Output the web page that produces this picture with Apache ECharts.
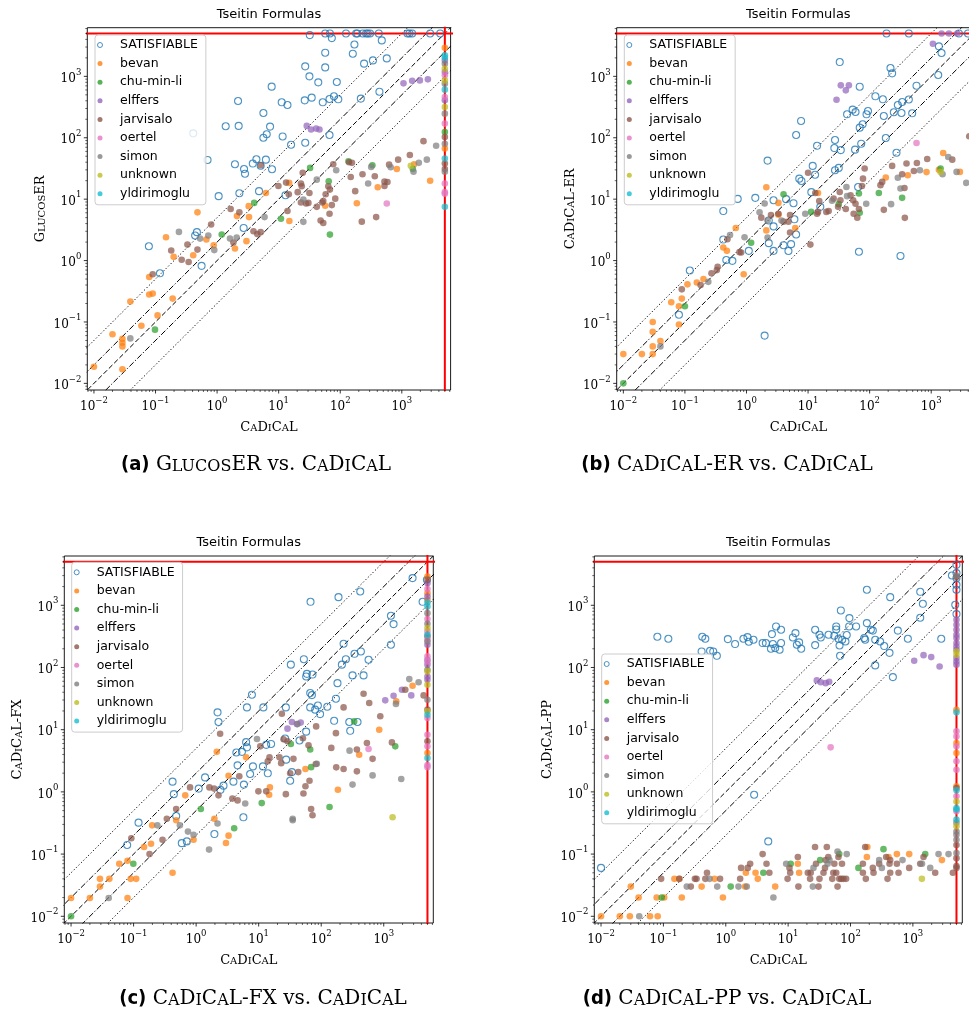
<!DOCTYPE html>
<html><head><meta charset="utf-8">
<script src="https://cdn.jsdelivr.net/npm/echarts@6/dist/echarts.min.js"></script>
<style>html,body{margin:0;padding:0;background:#fff}#c{width:969px;height:1017px}</style>
</head><body><div id="c"></div>
<script>
// ---------------- data ----------------
const CATS = ['SATISFIABLE','bevan','chu-min-li','elffers','jarvisalo','oertel','simon','unknown','yldirimoglu'];
const COLORS = ['#1f77b4','#ff7f0e','#2ca02c','#9467bd','#8c564b','#e377c2','#7f7f7f','#bcbd22','#17becf'];
const TIMEOUT = 5000;
const AXIS_MIN = 0.0078, AXIS_MAX = 6200;
const RATIOS = [5, 2, 1, 0.5, 0.2];
const TICK_EXPONENTS = [-2, -1, 0, 1, 2, 3];
const TITLE = 'Tseitin Formulas';
const XNAME = 'CaDiCaL';
const YNAMES = ['GlucosER','CaDiCaL-ER','CaDiCaL-FX','CaDiCaL-PP'];
const TAGS = ['(a)','(b)','(c)','(d)'];

// Panel (a): GlucosER vs CaDiCaL
const A_SAT = [[57,5000],[68,5000],[124,5000],[181,5000],[190,5000],[232,5000],[263,5000],[280,5000],[305,5000],[423,5000],[1236,5000],[1333,5000],[1473,5000],[2885,5000],[4200,5000],
 [32,4700],[73,4200],[170,3300],[473,3850],[57,2430],[160,2340],[570,1960],[340,1820],[244,1610],[27,1455],[57,1400],[31.6,1000],[44,798],[88,810],[7.7,680],[433,563],[79,473],[34.4,450],[216,434],[67,428],[93,423],[26.5,407],[2.19,397],[52,378],[11.2,378],[13.9,342],[5.65,253],[1.38,154],[2.24,156],[7.25,152],[0.41,118],[6.4,114],[5.65,100],[11.6,105],[67,111],[15.9,77],[27,83],[0.70,43.5],[4.35,44.7],[6.2,44],[3.8,38],[1.95,37],[5.1,35],[2.74,31],[7.8,30.7],[2.84,26],[4.8,13.5],[2.3,12.5],[1.06,11.2],[12.9,11.6],[0.47,2.9],[0.44,2.56],[2.7,3.4],[0.078,1.71],[0.56,0.82],[0.118,0.62]];
const A_bevan = [[0.148,2.4],[0.48,6.1],[0.197,1.15],[0.41,1.22],[0.67,2.2],[0.88,1.78],[1.95,1.57],[3.0,2.07],[2.1,5.3],[3.3,5.1],[3.26,7.7],[6.2,12.6],[14.8,18.4],[14.9,4.4],[57,7.8],[186,8.6],[407,15.6],[830,31],[1585,37],[2885,20],[0.079,0.54],[0.09,0.29],[0.079,0.28],[0.19,0.24],[0.108,0.128],[0.059,0.087],[0.039,0.216],[0.029,0.053],[0.029,0.046],[0.029,0.040],[0.029,0.017],[0.020,0.063],[0.01,0.0187],[5000,2925],[5000,67]];
const A_chu = [[0.098,0.075],[1.19,2.65],[4.0,8.7],[10.9,4.8],[32.4,32.3],[136,41.4],[333,35.6],[1510,31],[65,19.6],[68,2.65],[5000,124]];
const A_elffers = [[1065,770],[1473,850],[1963,860],[2650,893],[28.6,156],[33.6,136],[40.6,141],[46,136],[5000,1820],[5000,1175],[5000,407]];
const A_jarvisalo = [[2250,88],[1350,52.5],[872,44],[622,36.5],[523,19.3],[585,19],[523,16.4],[224,4.3],[383,5.1],[139,40],[155,39],[148,23],[230,25.5],[364,23.6],[175,13.5],[77,37],[64,16.2],[68,14.3],[58,12],[83,10.2],[73,8.0],[51,8.8],[53,9.3],[41.6,7.5],[67,5.8],[48,4.5],[53,4.1],[31.6,12.6],[23,18],[23.7,16.2],[20.4,13],[24.6,27],[23,8.8],[27.9,8.5],[30.4,8.7],[14.6,12],[13.2,18.6],[9.9,16.4],[13.9,6.4],[5.1,35.6],[2.3,6.1],[1.66,6.9],[5.1,2.9],[4.5,2.7],[3.9,3.0],[1.84,1.97],[0.80,3.86],[0.48,1.51],[0.33,1.82],[0.345,0.95],[0.266,1.03],[0.18,1.46],[0.09,0.60],[5000,103],[5000,38],[5000,31]];
const A_oertel = [[570,8.5],[5000,1040],[5000,461],[5000,170],[5000,18],[5000,13],[5000,12.3]];
const A_simon = [[3610,74],[2550,44],[1890,39],[660,33],[1550,28],[318,33.5],[284,18],[86,29.6],[41.6,20.8],[25.2,9.9],[25.2,4.27],[5.9,5.1],[2.08,2.37],[1.62,2.28],[0.90,1.48],[0.72,2.56],[0.53,2.28],[0.24,2.93],[0.039,0.054],[5000,1605],[5000,760],[5000,247],[5000,80],[5000,28]];
const A_unknown = [[1400,35],[5000,1333],[5000,860],[5000,317]];
const A_yldirimoglu = [[5000,2200],[5000,2010],[5000,607],[5000,46],[5000,7.5]];

// Panel (b): CaDiCaL-ER vs CaDiCaL
const B_SAT = [[188,5000],[433,5000],[2820,5000],[3950,5000],[1333,3080],[1472,2400],[32.7,1710],[218,1367],[232,1119],[1300,1051],[577,705],[69,679],[124,473],[164,423],[433,420],[338,382],[287,342],[53,287],[43,241],[59,263],[94,273],[89,241],[247,260],[170,226],[329,253],[491,250],[7.7,188],[77,166],[69,146],[6.4,111],[183,99],[14,74],[27.4,92],[26.7,68],[34,63],[58,64],[73,80],[273,57],[2.2,42.5],[31.5,32.3],[27.4,29.6],[11.9,34.8],[13,25],[7.2,21.6],[7.8,19.8],[65,15.8],[11.3,13],[15.8,7.5],[1.39,10.5],[0.72,10.1],[2.75,9.6],[4.4,10],[5.8,8.6],[0.42,6.4],[2.3,4.5],[6.0,4.7],[6.4,2.66],[2.75,3.6],[2.3,1.92],[4.0,1.78],[5.3,1.85],[2.75,1.44],[4.8,1.43],[1.09,1.44],[0.47,1.02],[0.59,0.99],[0.42,2.2],[0.12,0.69],[0.08,0.131],[67,1.39],[317,1.19],[1.97,0.060]];
const B_bevan = [[1567,56.6],[1333,30],[2925,27.8],[840,27.6],[417,24.5],[183,22.5],[14.5,12.6],[3.3,8.7],[3.3,5.6],[6.2,3.4],[2.1,15.6],[2.1,3.1],[0.9,0.60],[0.67,3.4],[0.42,1.63],[0.48,1.44],[0.20,0.50],[0.156,0.44],[0.11,0.41],[0.089,0.24],[0.06,0.21],[0.08,0.18],[0.08,0.091],[0.03,0.10],[0.03,0.069],[0.04,0.049],[0.03,0.04],[0.03,0.03],[0.02,0.03],[0.01,0.03]];
const B_chu = [[1419,31.5],[337,10.5],[141,12.6],[67,12.4],[69,6.0],[31.5,8.3],[11.2,6.2],[4.0,12],[1.19,1.95],[0.10,0.18],[0.01,0.01]];
const B_elffers = [[1472,5000],[1940,5000],[2650,5000],[1065,3400],[34,714],[46,714],[41,592],[29,417]];
const B_jarvisalo = [[4150,106],[2197,44],[861,45],[523,28.7],[397,38],[337,25.5],[585,38.9],[232,34.8],[368,15.2],[373,4.96],[170,6.7],[150,16.9],[160,19.1],[83,31.5],[78,21.6],[75,16.4],[49,11.6],[54,9.6],[59,8.4],[67,6.9],[63,5.0],[55,5.8],[41,6.9],[30.7,7.5],[26,10.2],[33.5,9.6],[32.7,13.1],[21.6,6.4],[19.8,6.2],[14.5,6.2],[14,5.8],[13.1,12.6],[15.2,9.3],[10,27],[10.9,1.82],[5.1,5.5],[4.8,4.3],[4.0,4.3],[3.3,5.8],[5.1,2.87],[2.5,5.5],[1.74,5.0],[0.82,1.35],[0.49,2.23],[0.77,1.37],[0.34,0.79],[0.33,0.70],[0.27,0.62],[0.18,0.40],[0.089,0.34]];
const B_oertel = [[577,82]];
const B_simon = [[1890,48.7],[1528,25.5],[2582,27.8],[3710,18.4],[655,29.6],[287,22.3],[317,14.9],[223,8.3],[88,8.4],[24.5,9.4],[43,11.2],[42,15.8],[9.0,5.8],[3.7,4.5],[2.2,4.5],[1.97,8.5],[1.63,6.1],[2.2,2.37],[0.93,2.4],[0.54,2.6],[0.24,0.45],[0.04,0.04]];
const B_unknown = [[1419,27.8]];
const B_yldirimoglu = [];

// Panel (c): CaDiCaL-FX vs CaDiCaL
const C_SAT = [[2890,2735],[4900,2570],[421,1668],[189,1352],[67.5,1138],[4180,1138],[1303,678],[1436,498],[228,241],[1303,232],[248,136],[52.8,136],[572,133],[32.7,111],[341,166],[431,181],[214,111],[57.5,71.8],[59,79],[72.6,77],[317,74.6],[476,74.6],[182,56],[66.7,38.8],[71,36],[7.8,36.5],[172,31.5],[66.7,22.8],[88.5,24.5],[80,21],[96,17.8],[125,23.4],[27.2,22.8],[6.5,22.8],[11.9,22.8],[2.2,19],[2.28,13.3],[161,13.9],[281,13.3],[291,9.6],[381,13.3],[57.5,9.3],[45,6.7],[26.5,7.2],[15.8,5.9],[13.2,5.7],[6.3,6.3],[6.5,5.2],[5.4,4.4],[4.4,4.3],[4.6,2.67],[8.1,2.57],[11.7,2.57],[27.5,3.3],[34,2.08],[31.9,1.51],[14,1.99],[7.3,1.94],[5.8,1.31],[3.95,1.46],[2.74,1.26],[2.45,1.08],[1.39,1.71],[1.1,1.13],[0.42,1.46],[0.44,0.92],[0.48,0.41],[5.7,0.39],[1.96,0.21],[0.59,0.15],[0.71,0.16],[0.12,0.32],[0.079,0.14]];
const C_bevan = [[2890,50.8],[1585,28.5],[847,10],[405,3.96],[185,1.08],[15.1,1.18],[14.7,0.90],[56,2.33],[6.3,3.6],[2.14,4.4],[3.3,1.82],[0.67,0.88],[0.48,0.35],[1.96,0.37],[3.3,0.198],[3.0,0.151],[0.91,0.17],[0.198,0.29],[0.19,0.147],[0.147,0.13],[0.08,0.078],[0.059,0.070],[0.42,0.050],[0.041,0.040],[0.029,0.040],[0.029,0.030],[0.09,0.04],[0.11,0.04],[0.08,0.0197],[0.02,0.0197],[0.01,0.0197],[5000,2905],[5000,1568],[5000,1225],[5000,4.2]];
const C_chu = [[337,13.6],[1528,5.4],[32.7,5.9],[66.7,4.8],[69,2.5],[136,0.57],[11.2,0.66],[1.19,0.53],[4.06,0.26],[0.099,0.070],[0.01,0.01]];
const C_elffers = [[2755,35.6],[1954,43.9],[1057,29.6],[1436,35.2],[34,13.3],[47,13],[40.8,12.3],[28.9,10.4],[5000,2270],[5000,1386],[5000,232],[5000,133],[5000,111],[5000,71.8],[5000,63.5]];
const C_jarvisalo = [[476,37.8],[586,26.8],[880,16.4],[2210,43.9],[4340,35.6],[1351,6.25],[538,6.1],[663,3.4],[372,4.8],[372,2.14],[228,22.8],[228,2.33],[172,8.8],[174,2.48],[145,5.1],[72.6,0.42],[69,0.53],[83,11.3],[82,2.8],[62.7,5.6],[56,1.23],[65,1.51],[52,0.94],[43,2.08],[51,7.3],[36,3.4],[31.9,1.99],[27.2,0.92],[28.9,6.5],[25,7.0],[23.5,18],[22.9,2.9],[21.5,3.6],[14.9,3.6],[14,3.1],[10.6,5.4],[9.9,1.02],[13.2,1.02],[4.9,1.78],[4.6,0.73],[3.8,0.78],[2.42,8.6],[2.28,0.88],[1.94,1.13],[1.63,1.18],[0.80,1.18],[0.48,0.53],[0.34,0.37],[0.29,0.17],[0.18,0.10],[0.092,0.18],[5000,2570],[5000,316],[5000,21],[5000,6.5]];
const C_oertel = [[572,4.9],[5000,1820],[5000,600],[5000,380],[5000,279],[5000,151],[5000,125],[5000,15.4],[5000,8.3],[5000,5.4],[5000,2.7],[5000,2.5]];
const C_simon = [[2560,65],[3610,58],[1567,26],[663,1.84],[1905,1.61],[317,1.31],[284,4.6],[85,2.84],[9.4,7.1],[41.8,12.3],[35,0.37],[35,0.35],[6.1,0.65],[1.61,0.118],[2.2,0.31],[0.74,0.23],[0.91,0.205],[0.55,0.29],[0.24,0.29],[0.04,0.0197],[5000,748],[5000,505],[5000,262],[5000,92],[5000,30.3]];
const C_unknown = [[1385,0.39],[5000,430],[5000,86.5],[5000,52.8],[5000,19.7]];
const C_yldirimoglu = [[5000,1110],[5000,957],[5000,336],[5000,17.4],[5000,3.5]];

// Panel (d): CaDiCaL-PP vs CaDiCaL
const D_SAT = [[183,1775],[433,1352],[1312,1648],[1446,1057],[70,826],[1312,630],[4225,3015],[4780,1019],[183,517],[212,404],[228,392],[574,392],[123,457],[95,457],[59,457],[59,409],[27.1,404],[27.1,229],[31.8,336],[33.4,304],[44.4,336],[55,324],[64,290],[66.7,226],[73.5,279],[83,262],[87,332],[68,154],[166,297],[172,279],[249,279],[249,108],[299,262],[347,221],[422,172],[478,70],[831,290],[2850,290],[96,622],[15,253],[13.1,357],[11.9,304],[13.8,232],[16.2,200],[7.7,247],[7.7,404],[6.4,457],[5.5,344],[5.7,238],[6.2,205],[7.3,193],[5.3,200],[4.4,247],[3.9,247],[2.78,279],[2.34,259],[2.23,308],[1.92,290],[1.41,238],[1.08,286],[0.63,181],[0.56,185],[0.41,181],[0.47,290],[0.42,312],[0.12,290],[0.08,312],[0.72,154],[2.85,0.90],[4.8,0.16],[0.01,0.060],[5000,4475],[5000,3290],[5000,2735],[5000,2135],[5000,1775],[5000,721]];
const D_bevan = [[0.01,0.01],[0.020,0.01],[0.029,0.01],[0.061,0.01],[0.081,0.01],[0.04,0.02],[0.078,0.02],[0.103,0.02],[0.197,0.02],[0.90,0.02],[0.03,0.03],[0.41,0.03],[2.04,0.03],[6.2,0.03],[0.15,0.04],[0.18,0.04],[0.66,0.04],[3.26,0.04],[2.1,0.05],[3.0,0.05],[15,0.05],[14.3,0.07],[2920,0.08],[183,0.09],[407,0.09],[554,0.1],[873,0.1],[186,0.13],[5000,20.9],[5000,6.1],[5000,4.2],[5000,1.23]];
const D_chu = [[0.094,0.02],[1.2,0.03],[4.0,0.05],[134,0.06],[11,0.07],[32.6,0.08],[66,0.1],[1578,0.1],[338,0.12]];
const D_elffers = [[1050,128],[1483,158],[1968,147],[2680,104],[28.8,62],[33.4,58],[40,56],[45.5,59],[5000,585],[5000,486],[5000,404],[5000,336],[5000,297],[5000,247],[5000,218],[5000,193],[5000,142],[5000,125],[5000,111]];
const D_jarvisalo = [[0.275,0.03],[14.6,0.03],[30.7,0.03],[62,0.03],[0.092,0.04],[0.18,0.04],[0.32,0.04],[0.34,0.04],[0.47,0.04],[0.81,0.04],[1.7,0.04],[9.8,0.04],[22.5,0.04],[31.8,0.04],[51,0.04],[66,0.04],[71,0.04],[77,0.04],[85,0.04],[176,0.04],[392,0.04],[0.50,0.05],[5.0,0.05],[10.8,0.05],[20.7,0.05],[23,0.05],[36.9,0.05],[53,0.05],[59,0.05],[158,0.05],[234,0.05],[433,0.05],[589,0.05],[2280,0.05],[4380,0.05],[1.76,0.06],[2.25,0.06],[10.5,0.06],[39,0.06],[228,0.06],[873,0.06],[2.46,0.07],[4.5,0.07],[28,0.07],[55,0.07],[73,0.07],[158,0.07],[288,0.07],[422,0.07],[554,0.07],[1312,0.07],[40,0.08],[433,0.08],[14.3,0.09],[44,0.09],[64,0.09],[373,0.09],[1483,0.09],[3.9,0.1],[27,0.13],[41.7,0.13],[172,0.13],[5000,2850],[5000,1.15],[5000,0.14],[5000,0.086],[5000,0.064],[5000,0.06]];
const D_oertel = [[48,5.2],[5000,9.4],[5000,7.8],[5000,5.4],[5000,3.1],[5000,2.27],[5000,0.85],[5000,0.49]];
const D_simon = [[0.041,0.01],[5.8,0.02],[0.237,0.03],[0.73,0.03],[1.6,0.03],[2.17,0.03],[24.9,0.03],[0.55,0.04],[25.5,0.06],[318,0.06],[1897,0.06],[9.3,0.07],[43,0.07],[1400,0.07],[46,0.08],[288,0.08],[683,0.08],[87,0.1],[2580,0.1],[3730,0.1],[62,0.11],[5000,3000],[5000,0.32],[5000,0.23],[5000,0.205],[5000,0.17],[5000,0.104]];
const D_unknown = [[1394,0.04],[5000,181],[5000,160],[5000,0.70],[5000,0.28]];
const D_yldirimoglu = [[5000,19],[5000,1.06],[5000,0.55],[5000,0.52],[5000,0.36]];

const PANEL_DATA = [
  [A_SAT,A_bevan,A_chu,A_elffers,A_jarvisalo,A_oertel,A_simon,A_unknown,A_yldirimoglu],
  [B_SAT,B_bevan,B_chu,B_elffers,B_jarvisalo,B_oertel,B_simon,B_unknown,B_yldirimoglu],
  [C_SAT,C_bevan,C_chu,C_elffers,C_jarvisalo,C_oertel,C_simon,C_unknown,C_yldirimoglu],
  [D_SAT,D_bevan,D_chu,D_elffers,D_jarvisalo,D_oertel,D_simon,D_unknown,D_yldirimoglu]
];

// ---------------- layout / style ----------------
const SERIF = "'DejaVu Serif', serif";
const SANS = "'DejaVu Sans', sans-serif";
const GRIDS = [
  {left:87.3, top:27.7, width:363.3, height:362.3},
  {left:616.7, top:27.7, width:363.3, height:362.3},
  {left:64.3, top:556, width:369, height:367},
  {left:594.3, top:556, width:368, height:367}
];
const LEGEND_POS = [[95,35],[624.3,35],[71.7,562.3],[601.7,654]];
const CAPTION_POS = [[256,463],[727,463],[263,997],[727,997]];

function scStyles(p, big, small){
  const o = {};
  o[p+'L'] = {fontFamily:SERIF, fontSize:big, lineHeight:0.6*big+12, verticalAlign:'bottom', color:'#000'};
  o[p+'S'] = {fontFamily:SERIF, fontSize:small, lineHeight:0.6*small+12, verticalAlign:'bottom', color:'#000'};
  return o;
}
function smallCaps(str, p){
  return str.replace(/([a-z]+)|([^a-z]+)/g, (m, lo, up) => lo ? '{'+p+'S|'+lo.toUpperCase()+'}' : '{'+p+'L|'+up+'}');
}
function tickFmt(v){
  const l = Math.log10(v), e = Math.round(l);
  if (Math.abs(l-e) > 1e-6 || TICK_EXPONENTS.indexOf(e) < 0) return '';
  return '{b|10}{s|' + (e < 0 ? '\u2212' : '') + Math.abs(e) + '}';
}
const tickRich = {
  b:{fontFamily:SERIF, fontSize:12, lineHeight:17, verticalAlign:'bottom', color:'#000'},
  s:{fontFamily:SERIF, fontSize:8.5, lineHeight:8, verticalAlign:'top', color:'#000'}
};
const nameRich = scStyles('n', 13, 10);

// tick positions (major at powers of ten, minor at 2..9)
const TICKS = [];
for (let e = -3; e <= 4; e++) for (let m = 1; m <= 9; m++) {
  const v = m * Math.pow(10, e);
  if (v < AXIS_MIN || v > AXIS_MAX) continue;
  TICKS.push([v, v, m === 1 ? 1 : 0, 0]);
  TICKS.push([v, v, m === 1 ? 1 : 0, 1]);
}

const grids = [], xAxes = [], yAxes = [], series = [], legends = [], graphics = [];
GRIDS.forEach((g, i) => {
  grids.push(Object.assign({show:true, borderColor:'#000', borderWidth:0.9, backgroundColor:'rgba(0,0,0,0)', containLabel:false, outerBoundsMode:'none'}, g));
  const axisCommon = {
    type:'log', logBase:10, min:AXIS_MIN, max:AXIS_MAX, gridIndex:i,
    axisLine:{show:false}, axisTick:{show:false}, splitLine:{show:false}, minorTick:{show:false},
    axisLabel:{formatter:tickFmt, rich:tickRich, margin:6, color:'#000', showMinLabel:false, showMaxLabel:false},
    nameLocation:'middle', nameTextStyle:{rich:nameRich}, nameMoveOverlap:false
  };
  xAxes.push(Object.assign({}, axisCommon, {name:smallCaps(XNAME,'n'), nameGap:24}));
  yAxes.push(Object.assign({}, axisCommon, {name:smallCaps(YNAMES[i],'n'), nameGap:40, nameRotate:90}));

  // reference lines
  RATIOS.forEach(k => {
    const t = k === 1 ? [5,2.5] : (k === 2 || k === 0.5 ? [6,2,1.2,2] : [1.2,2.2]);
    series.push({type:'line', xAxisIndex:i, yAxisIndex:i, data:[[1e-4,1e-4*k],[1e5,1e5*k]], symbol:'none', silent:true, animation:false, clip:true, z:2,
      lineStyle:{color:'#000', width:1, type:t}});
  });
  series.push({type:'line', xAxisIndex:i, yAxisIndex:i, data:[[1e-4,TIMEOUT],[1e5,TIMEOUT]], symbol:'none', silent:true, animation:false, clip:true, z:2, lineStyle:{color:'#ff0000', width:2}});
  series.push({type:'line', xAxisIndex:i, yAxisIndex:i, data:[[TIMEOUT,1e-4],[TIMEOUT,1e5]], symbol:'none', silent:true, animation:false, clip:true, z:2, lineStyle:{color:'#ff0000', width:2}});

  // scatter
  PANEL_DATA[i].forEach((d, c) => {
    const sat = c === 0;
    series.push({type:'scatter', name:CATS[c], xAxisIndex:i, yAxisIndex:i, data:d, symbol:'circle',
      symbolSize: sat ? 7 : 6.6, silent:true, animation:false, z:3,
      itemStyle: sat ? {color:'rgba(0,0,0,0)', borderColor:COLORS[0], borderWidth:1.1, opacity:0.8}
                     : {color:COLORS[c], opacity:0.72, borderWidth:0}});
  });

  // ticks
  series.push({type:'custom', xAxisIndex:i, yAxisIndex:i, data:TICKS, silent:true, animation:false, z:4, clip:false,
    renderItem:(params, api) => {
      const v = api.value(0), major = api.value(2), ax = api.value(3);
      const len = major ? 3.5 : 2, lw = major ? 0.8 : 0.6;
      if (ax === 0) {
        const p = api.coord([v, AXIS_MIN]);
        return {type:'line', shape:{x1:p[0], y1:p[1], x2:p[0], y2:p[1]+len}, style:{stroke:'#000', lineWidth:lw}};
      }
      const p = api.coord([AXIS_MIN, v]);
      return {type:'line', shape:{x1:p[0], y1:p[1], x2:p[0]-len, y2:p[1]}, style:{stroke:'#000', lineWidth:lw}};
    }});

  legends.push({
    orient:'vertical', left:LEGEND_POS[i][0], top:LEGEND_POS[i][1], selectedMode:false,
    itemWidth:30, itemHeight:5, itemGap:4.6, padding:[3,8,4,2],
    backgroundColor:'rgba(255,255,255,0.8)', borderColor:'#cccccc', borderWidth:1, borderRadius:3,
    textStyle:{fontFamily:SANS, fontSize:12.5, color:'#000', lineHeight:14},
    data: CATS.map((n, c) => c === 0
      ? {name:n, icon:'circle', itemStyle:{color:'rgba(0,0,0,0)', borderColor:COLORS[0], borderWidth:1, opacity:0.8}}
      : {name:n, icon:'circle', itemStyle:{color:COLORS[c], opacity:0.8, borderWidth:0}}),
    z:10
  });

  graphics.push({type:'text', x:g.left + g.width/2, y:g.top - 13, silent:true,
    style:{text:TITLE, fontFamily:SANS, fontSize:13, fill:'#000', align:'center', verticalAlign:'middle', textAlign:'center', textVerticalAlign:'middle'}});

  const cap = '{cB|' + TAGS[i] + '}{cL| }' + smallCaps(YNAMES[i],'c') + '{cL| vs. }' + smallCaps(XNAME,'c');
  const capRich = Object.assign(scStyles('c', 20, 16), {cB:{fontFamily:"'Liberation Sans Narrow','DejaVu Sans Condensed',sans-serif", fontWeight:'bold', fontSize:20, lineHeight:24, verticalAlign:'bottom', color:'#000'}});
  graphics.push({type:'text', x:CAPTION_POS[i][0], y:CAPTION_POS[i][1], silent:true,
    style:{text:cap, rich:capRich, fill:'#000', align:'center', verticalAlign:'middle', textAlign:'center', textVerticalAlign:'middle'}});
});

const chart = echarts.init(document.getElementById('c'), null, {renderer:'canvas'});
chart.setOption({
  backgroundColor:'#ffffff', animation:false,
  grid:grids, xAxis:xAxes, yAxis:yAxes, series:series, legend:legends,
  graphic:{elements:graphics}
});
</script></body></html>
